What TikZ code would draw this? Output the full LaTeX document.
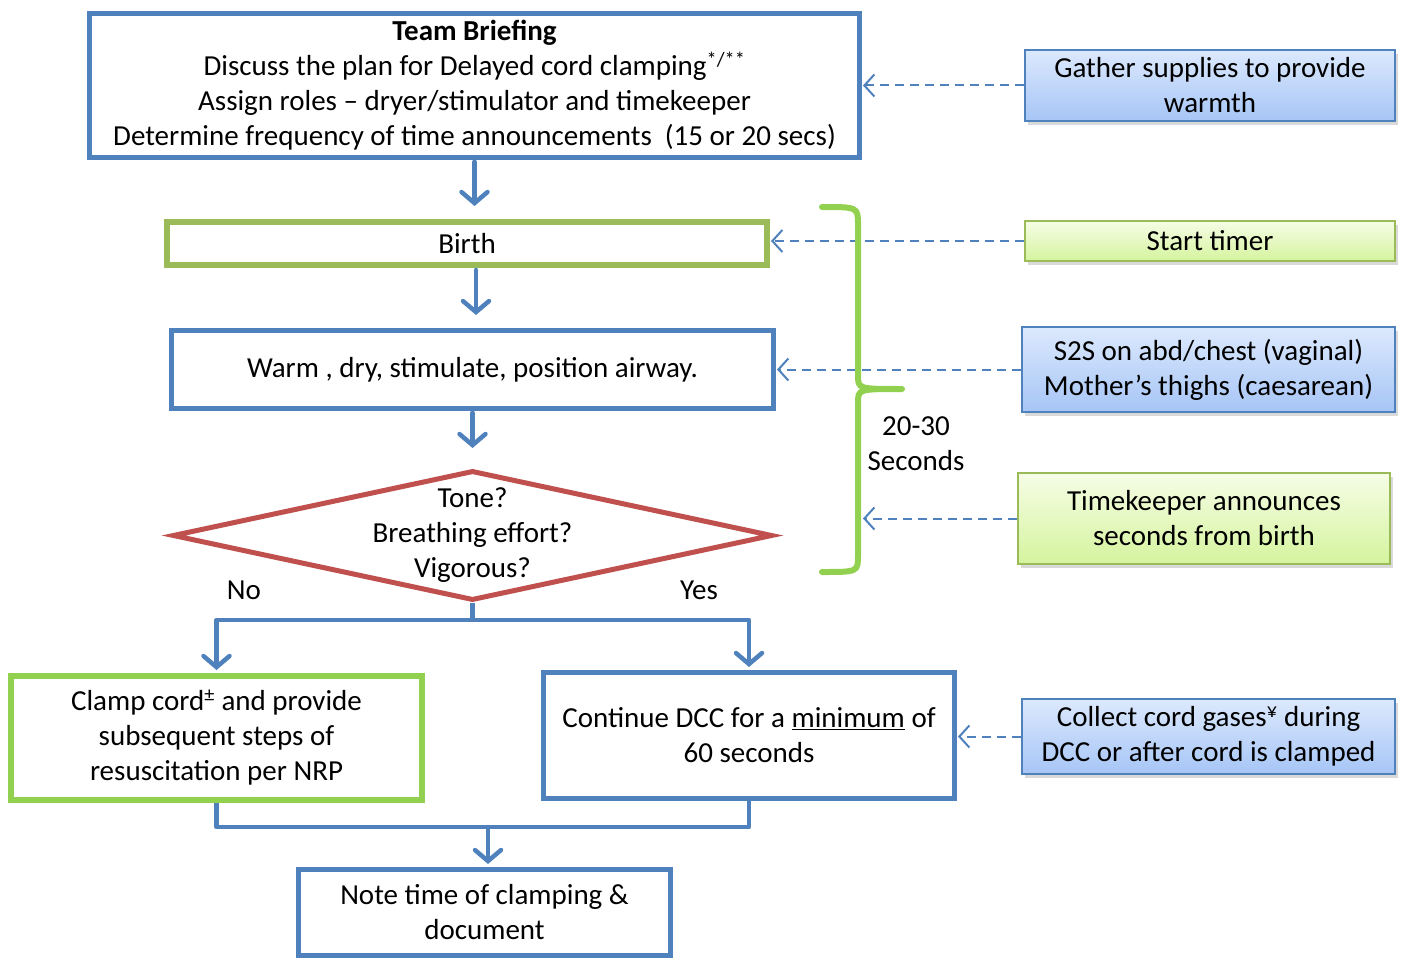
\documentclass[tikz,border=0pt]{standalone}
\usepackage{fontspec}
\setmainfont{Carlito}
\usetikzlibrary{arrows.meta, positioning, shapes.geometric, shadows}
\definecolor{boxblue}{HTML}{4F81BD}
\definecolor{boxgreen}{HTML}{9BBB59}
\definecolor{limegreen}{HTML}{92D050}
\definecolor{boxred}{HTML}{C0504D}
\definecolor{sideblueA}{HTML}{DCE9FD}
\definecolor{sideblueB}{HTML}{A6C5F6}
\definecolor{sidegreenA}{HTML}{F6FDE6}
\definecolor{sidegreenB}{HTML}{D5F49E}

\begin{document}
\begin{tikzpicture}[x=1pt, y=-1pt,
  every node/.style={font=\fontsize{29}{35}\selectfont, align=center, inner sep=0pt},
  stepbox/.style={draw=boxblue, line width=5pt, fill=white},
  greenstep/.style={stepbox, draw=#1, line width=6pt},
  sidebox/.style={draw=boxblue, line width=1.8pt, top color=sideblueA, bottom color=sideblueB,
                  drop shadow={shadow xshift=3pt, shadow yshift=-4pt, opacity=0.3}},
  sidegreen/.style={sidebox, draw=boxgreen, top color=sidegreenA, bottom color=sidegreenB},
  flow/.style={draw=boxblue, line width=4.5pt, line cap=round, line join=round,
               -{Straight Barb[length=11pt, width=26pt, line cap=round]}},
  joinline/.style={draw=boxblue, line width=4.5pt, line join=round},
  hint/.style={draw=boxblue, line width=2pt, dash pattern=on 9pt off 6pt,
               -{Straight Barb[length=10pt, width=22pt]}, shorten >=1pt}]
  \useasboundingbox (0,0) rectangle (1407,960);

  % main steps
  \node[stepbox, minimum width=770pt, minimum height=144pt] (brief) at (474.5,85.5)
    {\textbf{Team Briefing}\\
     Discuss the plan for Delayed cord clamping\textsuperscript{*/**}\\
     Assign roles – dryer/stimulator and timekeeper\\
     Determine frequency of time announcements\ \ (15 or 20 secs)};
  \node[greenstep=boxgreen, minimum width=600pt, minimum height=43pt] (birth) at (467,243.5) {Birth};
  \node[stepbox, minimum width=602pt, minimum height=78pt] (warm) at (472.5,369.5)
    {Warm , dry, stimulate, position airway.};
  \node[diamond, draw=boxred, line width=5pt, fill=white, minimum width=600pt, minimum height=130pt,
        label={[align=center]center:Tone?\\Breathing effort?\\Vigorous?}] (tone) at (472.5,535.5) {};
  \node (no) at (244,590) {No};
  \node (yes) at (699,590) {Yes};
  \node[greenstep=limegreen, minimum width=411pt, minimum height=124pt] (clamp) at (216.5,738)
    {Clamp cord\textsuperscript{±} and provide\\subsequent steps of\\resuscitation per NRP};
  \node[stepbox, minimum width=411pt, minimum height=126pt] (dcc) at (749,735.5)
    {Continue DCC for a \underline{minimum} of\\60 seconds};
  \node[stepbox, minimum width=372pt, minimum height=86pt] (note) at (484.5,912.5)
    {Note time of clamping \&\\document};

  % side notes
  \node[sidebox, minimum width=370pt, minimum height=71pt] (gather) at (1210,85.5)
    {Gather supplies to provide\\warmth};
  \node[sidegreen, minimum width=370pt, minimum height=40pt] (timer) at (1210,241) {Start timer};
  \node[sidebox, minimum width=373pt, minimum height=85pt] (s2s) at (1208.5,369.5)
    {S2S on abd/chest (vaginal)\\Mother’s thighs (caesarean)};
  \node[sidegreen, minimum width=372pt, minimum height=91pt] (keeper) at (1204,518.5)
    {Timekeeper announces\\seconds from birth};
  \node[sidebox, minimum width=373pt, minimum height=75pt] (collect) at (1208.5,736.5)
    {Collect cord gases\textsuperscript{¥} during\\DCC or after cord is clamped};

  % flow
  \draw[flow, shorten <=2pt, shorten >=13pt] (brief.south) -- (brief.south |- birth.north);
  \draw[flow, shorten <=2pt, shorten >=13pt] (birth.south -| 476,0) -- (warm.north -| 476,0);
  \draw[flow, shorten <=2pt, shorten >=20pt] (warm.south) -- (tone.north);
  \coordinate (split) at (472.5,620);
  \draw[joinline] (tone.south) -- (split);
  \draw[flow, shorten >=3pt] (split) -| (clamp.north);
  \draw[flow, shorten >=3pt] (split) -| (dcc.north);
  \coordinate (merge) at (488,827);
  \draw[joinline] (clamp.south) |- (merge) -| (dcc.south);
  \draw[flow, shorten >=3pt] (merge) -- (merge |- note.north);

  % dashed hints
  \draw[hint] (gather.west) -- (gather.west -| brief.east);
  \draw[hint] (timer.west) -- (timer.west -| birth.east);
  \draw[hint] (s2s.west) -- (s2s.west -| warm.east);
  \coordinate (bracemark) at (862,518.5);
  \draw[hint] (keeper.west) -- (bracemark);
  \draw[hint] (collect.west) -- (collect.west -| dcc.east);

  % brace over the first seconds
  \draw[limegreen, line width=6pt, line cap=round]
    (822,207) .. controls (858,207) .. (858,225) -- (858,375) .. controls (858,389) .. (902,389)
    (902,389) .. controls (858,389) .. (858,403) -- (858,555) .. controls (858,572) .. (822,572);
  \node (secs) at (916,443.5) {20-30\\Seconds};
\end{tikzpicture}
\end{document}
